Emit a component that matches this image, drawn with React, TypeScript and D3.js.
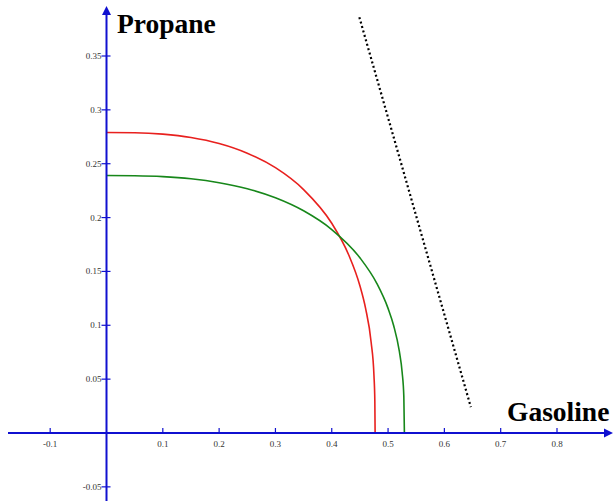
import React from "react";
import * as d3 from "d3";

// values
const xTicks = [-0.1, 0.1, 0.2, 0.3, 0.4, 0.5, 0.6, 0.7, 0.8];
const yTicks = [-0.05, 0.05, 0.1, 0.15, 0.2, 0.25, 0.3, 0.35];

const redX = [0, 0.05, 0.1, 0.15, 0.2, 0.25, 0.3, 0.35, 0.4, 0.43, 0.45, 0.46, 0.47, 0.475, 0.4765, 0.477];
const redY = [0.279, 0.2788, 0.2775, 0.2744, 0.2688, 0.2598, 0.2463, 0.226, 0.1947, 0.1655, 0.1367, 0.1159, 0.084, 0.053, 0.03, 0];

const greenX = [0, 0.05, 0.1, 0.15, 0.2, 0.25, 0.3, 0.35, 0.4, 0.45, 0.48, 0.5, 0.51, 0.52, 0.525, 0.528, 0.529];
const greenY = [0.239, 0.2388, 0.238, 0.236, 0.2324, 0.2268, 0.2184, 0.2063, 0.1889, 0.1627, 0.1389, 0.1157, 0.0996, 0.0759, 0.0564, 0.0338, 0];

const dottedX = [0.449, 0.647];
const dottedY = [0.386, 0.024];

const W = 613;
const H = 501;

export default function App() {
  const x = d3.scaleLinear().domain([0, 0.8]).range([106.5, 557]);
  const y = d3.scaleLinear().domain([0, 0.35]).range([433, 56]);
  const x0 = x(0);
  const y0 = y(0);

  const line = d3
    .line<[number, number]>()
    .x((d) => x(d[0]))
    .y((d) => y(d[1]))
    .curve(d3.curveMonotoneX);

  const red = redX.map((v, i) => [v, redY[i]] as [number, number]);
  const green = greenX.map((v, i) => [v, greenY[i]] as [number, number]);
  const dotted = dottedX.map((v, i) => [v, dottedY[i]] as [number, number]);
  const straight = d3.line<[number, number]>().x((d) => x(d[0])).y((d) => y(d[1]));

  const axisColor = "#1010d0";
  const tickFont = "'Liberation Serif', 'Times New Roman', serif";

  return (
    <svg width={W} height={H} style={{ position: "absolute", left: 0, top: 0, background: "#fff" }}>
      {/* curves */}
      <path d={line(red) || ""} fill="none" stroke="#e8201e" strokeWidth={1.6} />
      <path d={line(green) || ""} fill="none" stroke="#17871a" strokeWidth={1.6} />
      <path
        d={straight(dotted) || ""}
        fill="none"
        stroke="#000"
        strokeWidth={2.2}
        strokeDasharray="2 2.6"
      />

      {/* axes */}
      <line x1={8} x2={606} y1={y0} y2={y0} stroke={axisColor} strokeWidth={2} />
      <path d={`M${W},${y0} L${W - 9},${y0 - 4.5} L${W - 9},${y0 + 4.5} Z`} fill={axisColor} />
      <line x1={x0} x2={x0} y1={14} y2={H} stroke={axisColor} strokeWidth={2} />
      <path d={`M${x0},6 L${x0 - 4.5},15 L${x0 + 4.5},15 Z`} fill={axisColor} />

      {xTicks.map((t) => (
        <g key={"x" + t}>
          <line x1={x(t)} x2={x(t)} y1={y0 - 5} y2={y0} stroke={axisColor} strokeWidth={1.2} />
          <text
            x={x(t)}
            y={y0 + 14}
            textAnchor="middle"
            fontSize={9}
            fontFamily={tickFont}
            fill="#333"
          >
            {t}
          </text>
        </g>
      ))}
      {yTicks.map((t) => (
        <g key={"y" + t}>
          <line x1={x0 - 5} x2={x0 + 4} y1={y(t)} y2={y(t)} stroke={axisColor} strokeWidth={1.2} />
          <text
            x={x0 - 5}
            y={y(t) + 3}
            textAnchor="end"
            fontSize={9}
            fontFamily={tickFont}
            fill="#333"
          >
            {t}
          </text>
        </g>
      ))}

      <text x={117} y={33} fontSize={27.5} fontWeight="bold" fontFamily={tickFont} fill="#000">
        Propane
      </text>
      <text x={507} y={421} fontSize={27.5} fontWeight="bold" fontFamily={tickFont} fill="#000">
        Gasoline
      </text>
    </svg>
  );
}
